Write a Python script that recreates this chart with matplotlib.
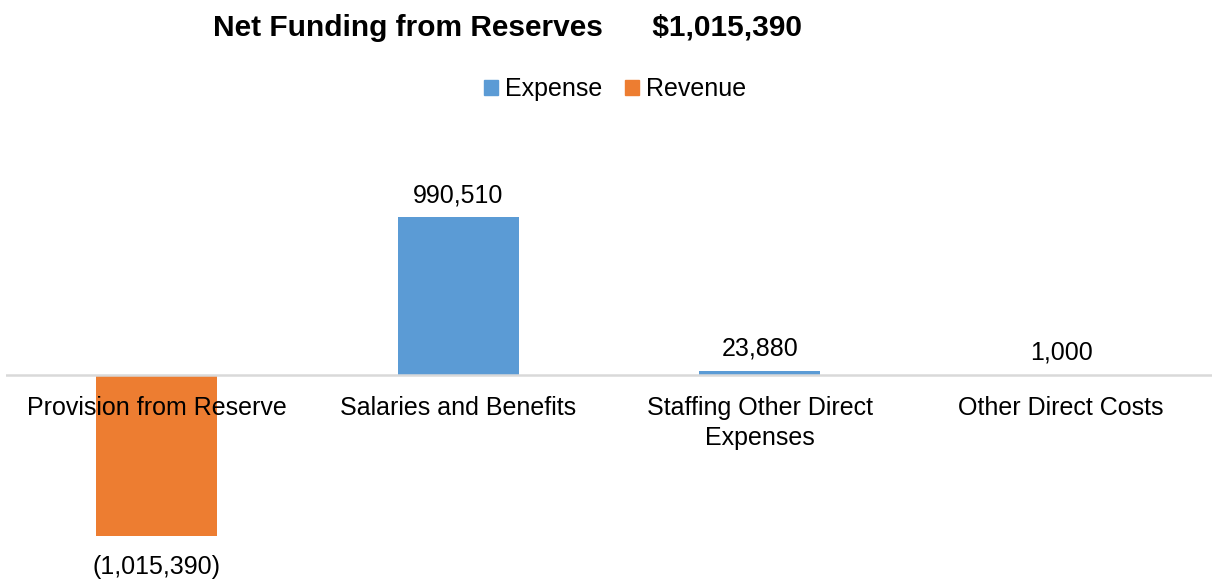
import matplotlib.pyplot as plt
import matplotlib.patches as mpatches

plt.rcParams["font.family"] = ["Liberation Sans", "DejaVu Sans"]

# ── Data ──────────────────────────────────────────────────────────────────────
categories = ["Provision from Reserve", "Salaries and Benefits",
              "Staffing Other Direct\nExpenses", "Other Direct Costs"]
amounts = [-1015390, 990510, 23880, 1000]
series = ["Revenue", "Expense", "Expense", "Expense"]
net_funding = 1015390

EXPENSE = "#5B9BD5"
REVENUE = "#ED7D31"
TEXT = "#000000"
AXIS = "#D9D9D9"
SERIES_COLOR = {"Expense": EXPENSE, "Revenue": REVENUE}


def fmt(v):
    return f"({abs(v):,.0f})" if v < 0 else f"{v:,.0f}"


fig = plt.figure(figsize=(12.12, 5.8), dpi=100, facecolor="white")
ax = fig.add_axes([6 / 1212, 0.0, 1206 / 1212, (580 - 130) / 580])

x = list(range(len(categories)))
colors = [SERIES_COLOR[s] for s in series]
bars = ax.bar(x, amounts, width=0.4, color=colors, zorder=1)

ax.set_xlim(-0.5, len(categories) - 0.5)
ax.set_ylim(-1290000, 1540000)
ax.axis("off")
ax.axhline(0, color=AXIS, linewidth=1.8, zorder=2)

# value labels
for i, v in enumerate(amounts):
    off = 16 if v >= 0 else -22
    ax.annotate(fmt(v), (i, v), xytext=(0, off), textcoords="offset points",
                ha="center", va="center", fontsize=18, color=TEXT)

# category labels just under the baseline
for i, c in enumerate(categories):
    ax.annotate(c, (i, 0), xytext=(0, -15), textcoords="offset points",
                ha="center", va="top", fontsize=18, color=TEXT,
                linespacing=1.35, zorder=3)

fig.text(213 / 1212, 1 - 28 / 580, f"Net Funding from Reserves      ${net_funding:,.0f}",
         ha="left", va="center", fontsize=21.5, fontweight="bold", color=TEXT)

handles = [mpatches.Patch(color=EXPENSE, label="Expense"),
           mpatches.Patch(color=REVENUE, label="Revenue")]
fig.legend(handles=handles, loc="center", bbox_to_anchor=(615 / 1212, 1 - 89 / 580),
           ncol=2, frameon=False, fontsize=18, handlelength=0.55, handleheight=0.55,
           handletextpad=0.3, columnspacing=0.9)

fig.savefig("out.png", dpi=100, facecolor="white")
